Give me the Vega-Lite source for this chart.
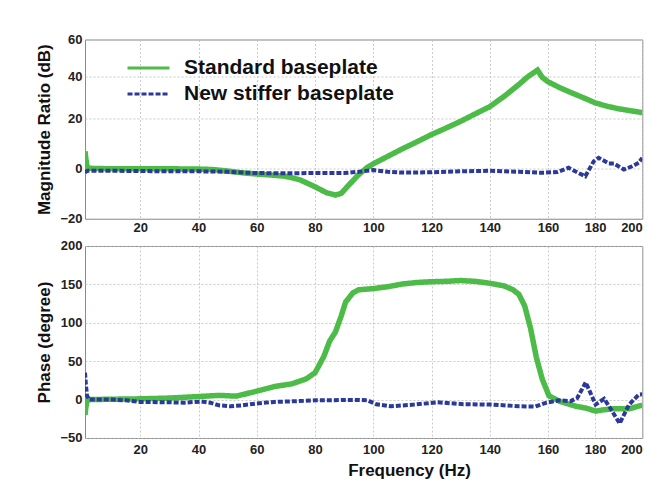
{
  "$schema": "https://vega.github.io/schema/vega-lite/v6.json",
  "padding": {"left": 35, "top": 32.5, "right": 5, "bottom": 5},
  "background": "white",
  "bounds": "flush",
  "spacing": 26.5,
  "resolve": {"scale": {"color": "independent", "strokeDash": "independent"}, "legend": {"color": "independent", "strokeDash": "independent"}},
  "config": {
    "font": "Liberation Sans",
    "view": {"stroke": "#8a8a8a", "strokeWidth": 1},
    "axis": {
      "labelFont": "Liberation Sans", "labelFontWeight": "bold", "labelFontSize": 13, "labelColor": "#222",
      "titleFont": "Liberation Sans", "titleFontWeight": "bold", "titleFontSize": 17, "titleColor": "#111",
      "grid": true, "gridColor": "#bdbdbd", "gridDash": [2, 2], "gridWidth": 0.8,
      "domain": false, "ticks": false, "tickSize": 0
    }
  },
  "datasets": {
    "mag": [
      {"f": 1, "v": 7, "s": "Standard baseplate"}, {"f": 1.4, "v": 3, "s": "Standard baseplate"}, {"f": 1.8, "v": 0.6, "s": "Standard baseplate"}, {"f": 2.5, "v": 0.2, "s": "Standard baseplate"}, {"f": 10, "v": 0, "s": "Standard baseplate"}, {"f": 20, "v": 0, "s": "Standard baseplate"}, {"f": 30, "v": 0, "s": "Standard baseplate"}, {"f": 40, "v": -0.1, "s": "Standard baseplate"}, {"f": 45, "v": -0.3, "s": "Standard baseplate"}, {"f": 50, "v": -0.9, "s": "Standard baseplate"}, {"f": 55, "v": -1.6, "s": "Standard baseplate"}, {"f": 60, "v": -2.1, "s": "Standard baseplate"}, {"f": 65, "v": -2.5, "s": "Standard baseplate"}, {"f": 70, "v": -3, "s": "Standard baseplate"}, {"f": 75, "v": -4.5, "s": "Standard baseplate"}, {"f": 80, "v": -7.2, "s": "Standard baseplate"}, {"f": 84, "v": -9.6, "s": "Standard baseplate"}, {"f": 87, "v": -10.5, "s": "Standard baseplate"}, {"f": 89, "v": -9.8, "s": "Standard baseplate"}, {"f": 92, "v": -6, "s": "Standard baseplate"}, {"f": 95, "v": -2.3, "s": "Standard baseplate"}, {"f": 98, "v": 0.6, "s": "Standard baseplate"}, {"f": 100, "v": 2, "s": "Standard baseplate"}, {"f": 105, "v": 5, "s": "Standard baseplate"}, {"f": 110, "v": 8, "s": "Standard baseplate"}, {"f": 115, "v": 10.8, "s": "Standard baseplate"}, {"f": 120, "v": 13.7, "s": "Standard baseplate"}, {"f": 125, "v": 16.3, "s": "Standard baseplate"}, {"f": 130, "v": 19, "s": "Standard baseplate"}, {"f": 135, "v": 22.3, "s": "Standard baseplate"}, {"f": 140, "v": 25.7, "s": "Standard baseplate"}, {"f": 145, "v": 30.6, "s": "Standard baseplate"}, {"f": 150, "v": 36.1, "s": "Standard baseplate"}, {"f": 153, "v": 39.7, "s": "Standard baseplate"}, {"f": 156.4, "v": 43.3, "s": "Standard baseplate"}, {"f": 158, "v": 39.5, "s": "Standard baseplate"}, {"f": 160, "v": 37.4, "s": "Standard baseplate"}, {"f": 165, "v": 34.6, "s": "Standard baseplate"}, {"f": 170, "v": 32.2, "s": "Standard baseplate"}, {"f": 175, "v": 29.9, "s": "Standard baseplate"}, {"f": 180, "v": 27.5, "s": "Standard baseplate"}, {"f": 185, "v": 25.9, "s": "Standard baseplate"}, {"f": 190, "v": 24.7, "s": "Standard baseplate"}, {"f": 195, "v": 23.8, "s": "Standard baseplate"}, {"f": 200, "v": 22.9, "s": "Standard baseplate"},
      {"f": 1, "v": -1.5, "s": "New stiffer baseplate"}, {"f": 1.5, "v": -1, "s": "New stiffer baseplate"}, {"f": 2, "v": -0.8, "s": "New stiffer baseplate"}, {"f": 5, "v": -0.8, "s": "New stiffer baseplate"}, {"f": 10, "v": -0.8, "s": "New stiffer baseplate"}, {"f": 20, "v": -0.9, "s": "New stiffer baseplate"}, {"f": 30, "v": -1, "s": "New stiffer baseplate"}, {"f": 40, "v": -1, "s": "New stiffer baseplate"}, {"f": 50, "v": -1.2, "s": "New stiffer baseplate"}, {"f": 55, "v": -1.5, "s": "New stiffer baseplate"}, {"f": 60, "v": -1.7, "s": "New stiffer baseplate"}, {"f": 70, "v": -1.8, "s": "New stiffer baseplate"}, {"f": 80, "v": -1.7, "s": "New stiffer baseplate"}, {"f": 90, "v": -1.7, "s": "New stiffer baseplate"}, {"f": 95, "v": -1.2, "s": "New stiffer baseplate"}, {"f": 100, "v": -0.5, "s": "New stiffer baseplate"}, {"f": 105, "v": -1.2, "s": "New stiffer baseplate"}, {"f": 110, "v": -1.5, "s": "New stiffer baseplate"}, {"f": 120, "v": -1.4, "s": "New stiffer baseplate"}, {"f": 130, "v": -1, "s": "New stiffer baseplate"}, {"f": 140, "v": -0.8, "s": "New stiffer baseplate"}, {"f": 150, "v": -1.2, "s": "New stiffer baseplate"}, {"f": 158, "v": -1.6, "s": "New stiffer baseplate"}, {"f": 164, "v": -1.3, "s": "New stiffer baseplate"}, {"f": 168.7, "v": 0.4, "s": "New stiffer baseplate"}, {"f": 171.5, "v": -1, "s": "New stiffer baseplate"}, {"f": 175.8, "v": -3, "s": "New stiffer baseplate"}, {"f": 179.4, "v": 3, "s": "New stiffer baseplate"}, {"f": 181.5, "v": 4.4, "s": "New stiffer baseplate"}, {"f": 185.8, "v": 2.1, "s": "New stiffer baseplate"}, {"f": 188, "v": 2.1, "s": "New stiffer baseplate"}, {"f": 192.2, "v": -0.3, "s": "New stiffer baseplate"}, {"f": 195.7, "v": 1, "s": "New stiffer baseplate"}, {"f": 198.5, "v": 2.4, "s": "New stiffer baseplate"}, {"f": 200, "v": 4.4, "s": "New stiffer baseplate"}
    ],
    "phase": [
      {"f": 1, "v": -20, "s": "Standard baseplate"}, {"f": 1.3, "v": -10, "s": "Standard baseplate"}, {"f": 1.7, "v": -2, "s": "Standard baseplate"}, {"f": 2.5, "v": 0, "s": "Standard baseplate"}, {"f": 10, "v": 0.5, "s": "Standard baseplate"}, {"f": 20, "v": 1, "s": "Standard baseplate"}, {"f": 30, "v": 2, "s": "Standard baseplate"}, {"f": 40, "v": 4, "s": "Standard baseplate"}, {"f": 47, "v": 5.5, "s": "Standard baseplate"}, {"f": 53, "v": 4.5, "s": "Standard baseplate"}, {"f": 60, "v": 11, "s": "Standard baseplate"}, {"f": 66, "v": 17, "s": "Standard baseplate"}, {"f": 72, "v": 20.5, "s": "Standard baseplate"}, {"f": 77, "v": 27, "s": "Standard baseplate"}, {"f": 80, "v": 35, "s": "Standard baseplate"}, {"f": 83, "v": 56, "s": "Standard baseplate"}, {"f": 85, "v": 76, "s": "Standard baseplate"}, {"f": 87, "v": 88, "s": "Standard baseplate"}, {"f": 89, "v": 109, "s": "Standard baseplate"}, {"f": 90.5, "v": 127, "s": "Standard baseplate"}, {"f": 93, "v": 139, "s": "Standard baseplate"}, {"f": 95, "v": 143, "s": "Standard baseplate"}, {"f": 100, "v": 144.5, "s": "Standard baseplate"}, {"f": 105, "v": 147, "s": "Standard baseplate"}, {"f": 110, "v": 150.5, "s": "Standard baseplate"}, {"f": 115, "v": 152.5, "s": "Standard baseplate"}, {"f": 120, "v": 153.5, "s": "Standard baseplate"}, {"f": 125, "v": 154, "s": "Standard baseplate"}, {"f": 130, "v": 155, "s": "Standard baseplate"}, {"f": 135, "v": 154, "s": "Standard baseplate"}, {"f": 140, "v": 151.5, "s": "Standard baseplate"}, {"f": 145, "v": 148, "s": "Standard baseplate"}, {"f": 148, "v": 143, "s": "Standard baseplate"}, {"f": 150, "v": 137, "s": "Standard baseplate"}, {"f": 152, "v": 122, "s": "Standard baseplate"}, {"f": 154, "v": 93, "s": "Standard baseplate"}, {"f": 156, "v": 55, "s": "Standard baseplate"}, {"f": 158, "v": 27, "s": "Standard baseplate"}, {"f": 160.4, "v": 5, "s": "Standard baseplate"}, {"f": 164.7, "v": -2, "s": "Standard baseplate"}, {"f": 171.8, "v": -8.7, "s": "Standard baseplate"}, {"f": 176, "v": -11, "s": "Standard baseplate"}, {"f": 180.2, "v": -15, "s": "Standard baseplate"}, {"f": 183, "v": -13.5, "s": "Standard baseplate"}, {"f": 187.3, "v": -12, "s": "Standard baseplate"}, {"f": 194.4, "v": -12, "s": "Standard baseplate"}, {"f": 199.3, "v": -7.8, "s": "Standard baseplate"}, {"f": 200, "v": -7.5, "s": "Standard baseplate"},
      {"f": 1, "v": 35, "s": "New stiffer baseplate"}, {"f": 1.3, "v": 20, "s": "New stiffer baseplate"}, {"f": 1.7, "v": 5, "s": "New stiffer baseplate"}, {"f": 2.5, "v": 0, "s": "New stiffer baseplate"}, {"f": 10, "v": 0, "s": "New stiffer baseplate"}, {"f": 15, "v": -1, "s": "New stiffer baseplate"}, {"f": 20, "v": -3, "s": "New stiffer baseplate"}, {"f": 30, "v": -3.5, "s": "New stiffer baseplate"}, {"f": 35, "v": -4, "s": "New stiffer baseplate"}, {"f": 41, "v": -2.5, "s": "New stiffer baseplate"}, {"f": 44, "v": -4, "s": "New stiffer baseplate"}, {"f": 47, "v": -7.5, "s": "New stiffer baseplate"}, {"f": 51, "v": -8.7, "s": "New stiffer baseplate"}, {"f": 55, "v": -7.5, "s": "New stiffer baseplate"}, {"f": 60, "v": -5, "s": "New stiffer baseplate"}, {"f": 66, "v": -3, "s": "New stiffer baseplate"}, {"f": 73, "v": -2.2, "s": "New stiffer baseplate"}, {"f": 80, "v": -1, "s": "New stiffer baseplate"}, {"f": 85, "v": -1, "s": "New stiffer baseplate"}, {"f": 90, "v": -0.5, "s": "New stiffer baseplate"}, {"f": 95, "v": -0.5, "s": "New stiffer baseplate"}, {"f": 98, "v": -1, "s": "New stiffer baseplate"}, {"f": 101, "v": -6, "s": "New stiffer baseplate"}, {"f": 106, "v": -8.7, "s": "New stiffer baseplate"}, {"f": 114, "v": -6.5, "s": "New stiffer baseplate"}, {"f": 122, "v": -3.5, "s": "New stiffer baseplate"}, {"f": 131, "v": -6, "s": "New stiffer baseplate"}, {"f": 141, "v": -6.5, "s": "New stiffer baseplate"}, {"f": 150, "v": -8.7, "s": "New stiffer baseplate"}, {"f": 155.7, "v": -9, "s": "New stiffer baseplate"}, {"f": 159.2, "v": -4.3, "s": "New stiffer baseplate"}, {"f": 164.6, "v": -1, "s": "New stiffer baseplate"}, {"f": 169.6, "v": -2, "s": "New stiffer baseplate"}, {"f": 172.4, "v": 2, "s": "New stiffer baseplate"}, {"f": 176, "v": 22.5, "s": "New stiffer baseplate"}, {"f": 180.2, "v": -6.5, "s": "New stiffer baseplate"}, {"f": 183.8, "v": 1, "s": "New stiffer baseplate"}, {"f": 185.9, "v": -8.7, "s": "New stiffer baseplate"}, {"f": 190.4, "v": -31, "s": "New stiffer baseplate"}, {"f": 194.4, "v": -6.5, "s": "New stiffer baseplate"}, {"f": 198.5, "v": 6.5, "s": "New stiffer baseplate"}, {"f": 200, "v": 7, "s": "New stiffer baseplate"}
    ]
  },
  "vconcat": [
    {
      "width": 557.3,
      "height": 179.3,
      "data": {"name": "mag"},
      "encoding": {
        "x": {"field": "f", "type": "quantitative", "title": null,
          "scale": {"domain": [1, 160, 200], "range": [0, 463, 557.3], "nice": false, "zero": false},
          "axis": {"values": [20, 40, 60, 80, 100, 120, 140, 160, 180, 200], "labelPadding": 3}},
        "y": {"field": "v", "type": "quantitative", "title": "Magnitude Ratio (dB)",
          "scale": {"domain": [-20, 0, 20, 40, 60], "range": [179.3, 129.3, 79.3, 36.7, 0], "nice": false, "zero": false},
          "axis": {"values": [-20, 0, 20, 40, 60], "labelPadding": 3, "titleX": -31}},
        "color": {"field": "s", "type": "nominal",
          "scale": {"domain": ["Standard baseplate", "New stiffer baseplate"], "range": ["#4cbb47", "#2b3a98"]},
          "legend": {"title": null, "orient": "none", "legendX": 53, "legendY": 18, "padding": 0,
            "symbolType": "M-4,0H4", "symbolSize": 110, "symbolStrokeWidth": 3,
            "labelFont": "Liberation Sans", "labelFontWeight": "bold", "labelFontSize": 21, "labelColor": "#111",
            "labelOffset": 25, "labelLimit": 500, "rowPadding": 4,
            "encode": {"symbols": {"update": {"strokeDash": {"signal": "datum.value === 'New stiffer baseplate' ? [7, 5] : [1, 0]"}}}}}},
        "strokeDash": {"field": "s", "type": "nominal",
          "scale": {"domain": ["Standard baseplate", "New stiffer baseplate"], "range": [[1, 0], [5, 2]]},
          "legend": null}
      },
      "layer": [
        {"transform": [{"filter": "datum.s === 'Standard baseplate'"}], "mark": {"type": "line", "strokeWidth": 5.5, "clip": true}},
        {"transform": [{"filter": "datum.s === 'New stiffer baseplate'"}], "mark": {"type": "line", "strokeWidth": 4, "clip": true}}
      ]
    },
    {
      "width": 557.3,
      "height": 192,
      "data": {"name": "phase"},
      "encoding": {
        "x": {"field": "f", "type": "quantitative", "title": "Frequency (Hz)",
          "scale": {"domain": [1, 160, 200], "range": [0, 463, 557.3], "nice": false, "zero": false},
          "axis": {"values": [20, 40, 60, 80, 100, 120, 140, 160, 180, 200], "labelPadding": 5.5, "titleX": 324, "titleY": 38, "titleBaseline": "alphabetic"}},
        "y": {"field": "v", "type": "quantitative", "title": "Phase (degree)",
          "scale": {"domain": [-50, 200], "nice": false, "zero": false},
          "axis": {"values": [-50, 0, 50, 100, 150, 200], "labelPadding": 3, "titleX": -31}},
        "color": {"field": "s", "type": "nominal",
          "scale": {"domain": ["Standard baseplate", "New stiffer baseplate"], "range": ["#4cbb47", "#2b3a98"]},
          "legend": null},
        "strokeDash": {"field": "s", "type": "nominal",
          "scale": {"domain": ["Standard baseplate", "New stiffer baseplate"], "range": [[1, 0], [5, 2]]},
          "legend": null}
      },
      "layer": [
        {"transform": [{"filter": "datum.s === 'Standard baseplate'"}], "mark": {"type": "line", "strokeWidth": 5.5, "clip": true}},
        {"transform": [{"filter": "datum.s === 'New stiffer baseplate'"}], "mark": {"type": "line", "strokeWidth": 4, "clip": true}}
      ]
    }
  ]
}
